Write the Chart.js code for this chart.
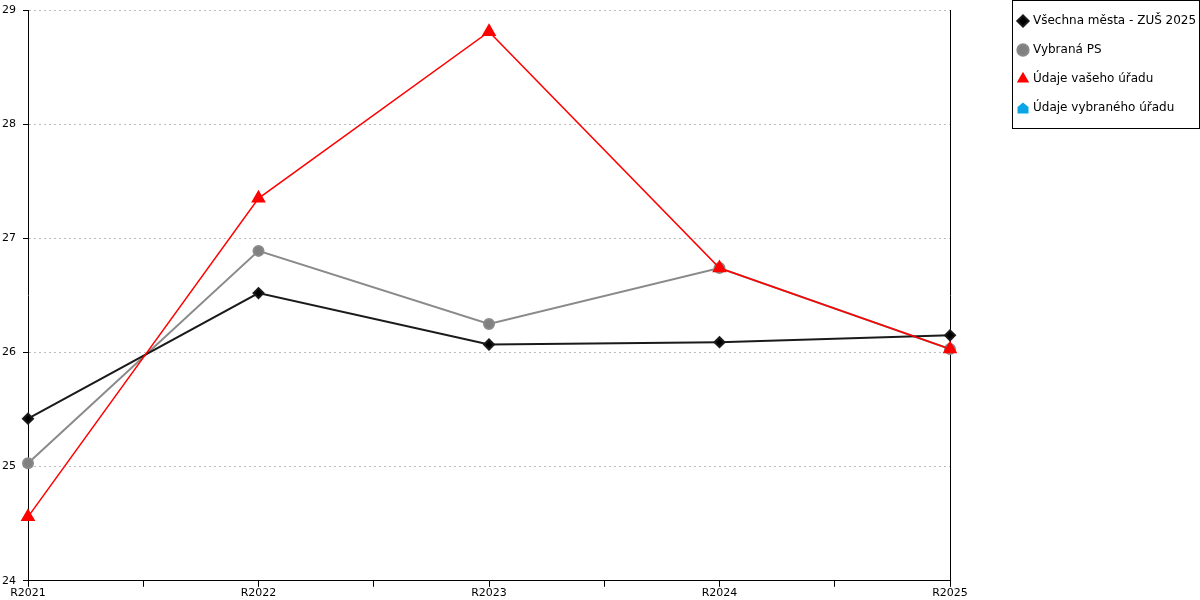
<!DOCTYPE html>
<html>
<head>
<meta charset="utf-8">
<script src="https://cdn.jsdelivr.net/npm/chart.js@4"></script>
<style>
  html, body { margin: 0; padding: 0; background: #fff; }
  #wrap { width: 1200px; height: 600px; }
</style>
</head>
<body>
<div id="wrap"><canvas id="chart0"></canvas></div>
<script>
// data
var categories = ["R2021", "R2022", "R2023", "R2024", "R2025"];
var vsechnaMesta = [25.42, 26.52, 26.07, 26.09, 26.15];
var vybranaPS = [25.03, 26.89, 26.25, 26.74, 26.03];
var vasUrad = [24.56, 27.35, 28.81, 26.74, 26.03];
var vybranyUrad = [];
var yTicks = [24, 25, 26, 27, 28, 29];

Chart.defaults.font.family = "'DejaVu Sans', Verdana, sans-serif";
Chart.defaults.color = '#000';

function toPoints(values) {
    return values.map(function (v, i) { return { x: i, y: v }; });
}

// little house marker for the last legend entry
function houseMarker() {
    var c = document.createElement('canvas');
    c.width = 12; c.height = 12;
    var g = c.getContext('2d');
    g.fillStyle = '#0aa5e6';
    g.beginPath();
    g.moveTo(6, 0.5);
    g.lineTo(11.5, 5);
    g.lineTo(11.5, 11.5);
    g.lineTo(0.5, 11.5);
    g.lineTo(0.5, 5);
    g.closePath();
    g.fill();
    return c;
}

// frame round the legend items
var legendBox = {
    id: 'legendBox',
    afterDraw: function (chart) {
        var l = chart.legend;
        var boxes = l.legendHitBoxes;
        var last = boxes[boxes.length - 1];
        var c = chart.ctx;
        var x0 = l.left + 1, y0 = 0;
        var x1 = chart.width - 1, y1 = last.top + last.height + 5;
        c.save();
        c.strokeStyle = '#000';
        c.lineWidth = 1;
        c.strokeRect(Math.round(x0) + 0.5, Math.round(y0) + 0.5, Math.round(x1 - x0), Math.round(y1 - y0));
        c.restore();
    }
};

var ctx = document.getElementById('chart0').getContext('2d');
var chart = new Chart(ctx, {
    type: 'line',
    data: {
        datasets: [{
            label: 'Všechna města - ZUŠ 2025',
            data: toPoints(vsechnaMesta),
            order: 1,
            clip: false,
            borderColor: '#1a1a1a',
            backgroundColor: '#000',
            borderWidth: 2,
            pointStyle: 'rectRot',
            pointRadius: 5,
            pointHoverRadius: 5
        }, {
            label: 'Vybraná PS',
            data: toPoints(vybranaPS),
            order: 2,
            clip: false,
            borderColor: '#8a8a8a',
            backgroundColor: '#808080',
            borderWidth: 2,
            pointStyle: 'circle',
            pointRadius: 5,
            pointHoverRadius: 5
        }, {
            label: 'Údaje vašeho úřadu',
            data: toPoints(vasUrad),
            order: 0,
            clip: false,
            borderColor: '#ff0000',
            backgroundColor: '#ff0000',
            borderWidth: 1.5,
            pointStyle: 'triangle',
            pointRadius: 7,
            pointHoverRadius: 7
        }, {
            label: 'Údaje vybraného úřadu',
            data: toPoints(vybranyUrad),
            order: 3,
            borderColor: '#0aa5e6',
            backgroundColor: '#0aa5e6',
            pointStyle: houseMarker()
        }]
    },
    options: {
        responsive: true,
        maintainAspectRatio: false,
        animation: false,
        layout: { padding: { top: 0, right: 1, left: 0, bottom: 0 } },
        plugins: {
            tooltip: { enabled: false },
            legend: {
                position: 'right',
                align: 'start',
                maxWidth: 188,
                title: { display: true, text: ' ', padding: 0, font: { size: 7, lineHeight: 1 } },
                labels: {
                    usePointStyle: true,
                    boxWidth: 8,
                    boxHeight: 8,
                    padding: 8,
                    font: { size: 12, lineHeight: 1.75 },
                    color: '#000',
                    sort: function (a, b) { return a.datasetIndex - b.datasetIndex; },
                    generateLabels: function (chart) {
                        var items = Chart.defaults.plugins.legend.labels.generateLabels(chart);
                        // array text lets the font lineHeight set the row height
                        items.forEach(function (it) { it.text = [it.text]; });
                        return items;
                    }
                }
            }
        },
        scales: {
            x: {
                type: 'linear',
                min: 0,
                max: categories.length - 1,
                ticks: {
                    stepSize: 0.5,
                    autoSkip: false,
                    maxRotation: 0,
                    padding: 0,
                    font: { size: 11 },
                    callback: function (v) {
                        return Number.isInteger(v) ? categories[v] : '';
                    }
                },
                grid: {
                    drawOnChartArea: false,
                    drawTicks: true,
                    tickLength: 6,
                    tickColor: '#000'
                },
                border: { display: true, color: '#000', width: 1 }
            },
            y: {
                min: yTicks[0],
                max: yTicks[yTicks.length - 1],
                afterBuildTicks: function (axis) {
                    axis.ticks = yTicks.map(function (v) { return { value: v }; });
                },
                afterFit: function (scale) {
                    scale.width = 28;
                    scale.paddingTop = 10;
                },
                ticks: { padding: 7, font: { size: 11, lineHeight: 1 } },
                grid: {
                    color: '#bdbdbd',
                    tickColor: '#000',
                    tickLength: 5,
                    lineWidth: 1
                },
                border: { display: true, color: '#000', width: 1, dash: [2, 3] }
            },
            y2: {
                position: 'right',
                min: yTicks[0],
                max: yTicks[yTicks.length - 1],
                ticks: { display: false },
                grid: { drawOnChartArea: false, drawTicks: false },
                border: { display: true, color: '#000', width: 1 },
                afterFit: function (scale) { scale.width = 61; }
            }
        }
    },
    plugins: [legendBox]
});
</script>
</body>
</html>
